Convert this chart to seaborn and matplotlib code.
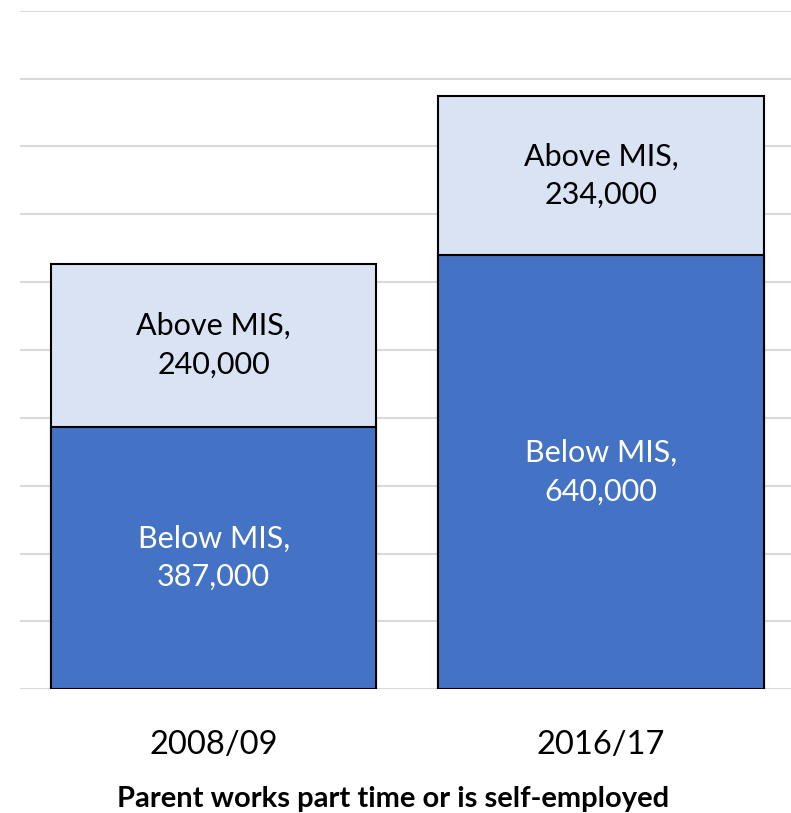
import matplotlib
matplotlib.use("Agg")
import matplotlib.pyplot as plt
import seaborn as sns
import pandas as pd

years = ["2008/09", "2016/17"]
below_mis = [387000, 640000]
above_mis = [240000, 234000]
totals = [b + a for b, a in zip(below_mis, above_mis)]

sns.set_theme(style="white")
plt.rcParams["font.family"] = ["Lato", "DejaVu Sans"]

fig = plt.figure(figsize=(7.91, 8.13), dpi=100)
ax = fig.add_axes([20 / 791, 1 - 689.3 / 813, 771 / 791, (689.3 - 10.7) / 813])

df = pd.DataFrame({"year": years, "below": below_mis, "total": totals})

dark = "#4472C4"
light = "#DAE3F3"

# full stack first (light), then the lower segment on top (dark)
sns.barplot(data=df, x="year", y="total", color=light, saturation=1,
            width=0.84, edgecolor="black", linewidth=1.5, ax=ax, zorder=3)
sns.barplot(data=df, x="year", y="below", color=dark, saturation=1,
            width=0.84, edgecolor="black", linewidth=1.5, ax=ax, zorder=3)

ax.set_ylim(0, 1_000_000)
ax.set_xlim(-0.5, 1.49)
ax.set_yticks(range(0, 1_000_001, 100_000))
ax.yaxis.grid(True, color="#d9d9d9", linewidth=1.5, zorder=0)
ax.set_axisbelow(True)
for s in ax.spines.values():
    s.set_visible(False)
ax.tick_params(axis="y", left=False, labelleft=False)
ax.tick_params(axis="x", bottom=False, labelsize=23.5, pad=23, colors="black")
ax.set_ylabel("")
ax.set_xlabel("Parent works part time or is self-employed",
              fontsize=21, fontweight="bold", color="black")
ax.xaxis.set_label_coords(0.484, -0.161, transform=ax.transAxes)
ax.xaxis.label.set_va("center")

for i in range(len(years)):
    ax.text(i, below_mis[i] / 2, f"Below MIS,\n{below_mis[i]:,}",
            ha="center", va="center", color="white", fontsize=22,
            linespacing=1.45, zorder=5)
    ax.text(i, below_mis[i] + above_mis[i] / 2, f"Above MIS,\n{above_mis[i]:,}",
            ha="center", va="center", color="black", fontsize=22,
            linespacing=1.45, zorder=5)

fig.savefig("out.png", dpi=100, facecolor="white")
